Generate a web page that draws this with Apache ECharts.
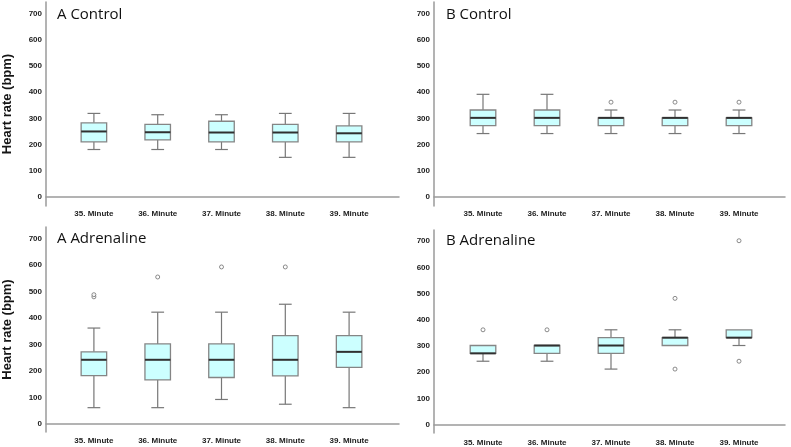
<!DOCTYPE html>
<html>
<head>
<meta charset="utf-8">
<script src="https://cdn.jsdelivr.net/npm/echarts@6/dist/echarts.min.js"></script>
<style>
  html, body { margin: 0; padding: 0; background: #ffffff; }
  #chart { width: 791px; height: 447px; }
</style>
</head>
<body>
<div id="chart"></div>
<script>
// ---- data ----
const categories = ['35. Minute', '36. Minute', '37. Minute', '38. Minute', '39. Minute'];
const yTicks = [0, 100, 200, 300, 400, 500, 600, 700];
const panelTitles = ['A Control', 'B Control', 'A Adrenaline', 'B Adrenaline'];
const yAxisTitle = 'Heart rate (bpm)';

// each box: [lower whisker, Q1, median, Q3, upper whisker]
const aControlBoxes = [
  [181, 210, 250, 283, 319],
  [181, 218, 247, 277, 314],
  [181, 210, 246, 289, 314],
  [151, 210, 246, 277, 319],
  [151, 210, 243, 271, 319]
];
const aControlOutliers = []; // [category index, value]

const bControlBoxes = [
  [242, 272, 302, 332, 392],
  [242, 272, 302, 332, 392],
  [242, 272, 302, 302, 332],
  [242, 272, 302, 302, 332],
  [242, 272, 302, 302, 332]
];
const bControlOutliers = [[2, 362], [3, 362], [4, 362]];

const aAdrenalineBoxes = [
  [61, 182, 242, 272, 362],
  [61, 166, 242, 302, 422],
  [92, 175, 242, 302, 422],
  [74, 181, 242, 333, 452],
  [61, 213, 272, 333, 422]
];
const aAdrenalineOutliers = [[0, 480], [0, 488], [1, 555], [2, 593], [3, 593]];

const bAdrenalineBoxes = [
  [242, 272, 272, 302, 302],
  [242, 272, 302, 302, 302],
  [212, 272, 302, 332, 362],
  [302, 302, 332, 332, 362],
  [302, 332, 332, 362, 362]
];
const bAdrenalineOutliers = [[0, 362], [1, 362], [3, 482], [3, 212], [4, 702], [4, 242]];

// ---- layout (pixels) ----
const panels = [
  { boxes: aControlBoxes, outliers: aControlOutliers, title: panelTitles[0], titlePos: [57, 7],
    frame: { left: 44, top: 2, width: 355, height: 204 }, plot: { left: 62, width: 319 },
    yRange: [-35, 745], yName: true, labelMargin: 4 },
  { boxes: bControlBoxes, outliers: bControlOutliers, title: panelTitles[1], titlePos: [446, 7],
    frame: { left: 434, top: 2, width: 351, height: 204 }, plot: { left: 451, width: 320 },
    yRange: [-35, 745], yName: false, labelMargin: 4 },
  { boxes: aAdrenalineBoxes, outliers: aAdrenalineOutliers, title: panelTitles[2], titlePos: [57, 231],
    frame: { left: 44, top: 227, width: 355, height: 205 }, plot: { left: 62, width: 319 },
    yRange: [-31, 744], yName: true, labelMargin: 5 },
  { boxes: bAdrenalineBoxes, outliers: bAdrenalineOutliers, title: panelTitles[3], titlePos: [446, 233],
    frame: { left: 434, top: 230, width: 351, height: 203 }, plot: { left: 451, width: 320 },
    yRange: [-32, 743], yName: false, labelMargin: 6 }
];

const axisLineStyle = { color: '#9a9a9a', width: 1.5 };
const tickFont = { fontFamily: 'Liberation Sans', fontSize: 8, fontWeight: 'bold', color: '#222' };

function renderBox(params, api) {
  const i = api.value(0);
  const lo = api.coord([i, api.value(1)]);
  const q1 = api.coord([i, api.value(2)]);
  const md = api.coord([i, api.value(3)]);
  const q3 = api.coord([i, api.value(4)]);
  const hi = api.coord([i, api.value(5)]);
  const band = api.size([1, 0])[0];
  const bw = band * 0.4;
  const cw = bw * 0.5;
  const cx = q1[0];
  const ws = { stroke: '#777777', lineWidth: 1.2, fill: null };
  const children = [];
  if (hi[1] < q3[1] - 0.5) {
    children.push({ type: 'line', shape: { x1: cx, y1: q3[1], x2: cx, y2: hi[1] }, style: ws });
    children.push({ type: 'line', shape: { x1: cx - cw / 2, y1: hi[1], x2: cx + cw / 2, y2: hi[1] }, style: ws });
  }
  if (lo[1] > q1[1] + 0.5) {
    children.push({ type: 'line', shape: { x1: cx, y1: q1[1], x2: cx, y2: lo[1] }, style: ws });
    children.push({ type: 'line', shape: { x1: cx - cw / 2, y1: lo[1], x2: cx + cw / 2, y2: lo[1] }, style: ws });
  }
  children.push({ type: 'rect', shape: { x: cx - bw / 2, y: q3[1], width: bw, height: q1[1] - q3[1] },
    style: { fill: '#ccffff', stroke: '#858585', lineWidth: 1.3 } });
  children.push({ type: 'line', shape: { x1: cx - bw / 2, y1: md[1], x2: cx + bw / 2, y2: md[1] },
    style: { stroke: '#303030', lineWidth: 2 } });
  return { type: 'group', children: children };
}

const grid = [], xAxis = [], yAxis = [], series = [], title = [];
panels.forEach(function (p, k) {
  const fi = grid.length;
  grid.push({ left: p.frame.left, top: p.frame.top, width: p.frame.width, height: p.frame.height });
  const di = grid.length;
  grid.push({ left: p.plot.left, top: p.frame.top, width: p.plot.width, height: p.frame.height });

  xAxis.push({ gridIndex: fi, type: 'value', min: 0, max: 1,
    axisLine: { show: true, lineStyle: axisLineStyle }, axisTick: { show: false },
    axisLabel: { show: false }, splitLine: { show: false } });
  yAxis.push({ gridIndex: fi, type: 'value', min: p.yRange[0], max: p.yRange[1], splitNumber: 8,
    axisLine: { show: true, lineStyle: axisLineStyle }, axisTick: { show: false },
    splitLine: { show: false },
    axisLabel: Object.assign({ customValues: yTicks, margin: 4 }, tickFont),
    name: p.yName ? yAxisTitle : '', nameLocation: 'middle', nameRotate: 90, nameGap: 32,
    nameTextStyle: { fontFamily: 'Liberation Sans', fontSize: 13, fontWeight: 'bold', color: '#151515' } });

  xAxis.push({ gridIndex: di, type: 'category', data: categories,
    axisLine: { show: false }, axisTick: { show: false }, splitLine: { show: false },
    axisLabel: Object.assign({ margin: p.labelMargin, interval: 0 }, tickFont) });
  yAxis.push({ gridIndex: di, type: 'value', min: p.yRange[0], max: p.yRange[1], show: false,
    splitLine: { show: false } });

  series.push({ type: 'custom', xAxisIndex: di, yAxisIndex: di,
    renderItem: renderBox, encode: { x: 0, y: [1, 2, 3, 4, 5] },
    data: p.boxes.map(function (b, i) { return [i].concat(b); }), z: 2 });
  series.push({ type: 'scatter', xAxisIndex: di, yAxisIndex: di, symbol: 'circle', symbolSize: 4,
    itemStyle: { color: '#ffffff', borderColor: '#6f6f6f', borderWidth: 1 },
    data: p.outliers, z: 3 });

  title.push({ text: p.title, left: p.titlePos[0], top: p.titlePos[1], padding: 0,
    textStyle: { fontFamily: 'Open Sans', fontSize: 15, fontWeight: 'normal', color: '#111' } });
});

const chart = echarts.init(document.getElementById('chart'), null, { renderer: 'canvas' });
chart.setOption({
  backgroundColor: '#ffffff',
  animation: false,
  title: title,
  grid: grid,
  xAxis: xAxis,
  yAxis: yAxis,
  series: series
});
</script>
</body>
</html>
